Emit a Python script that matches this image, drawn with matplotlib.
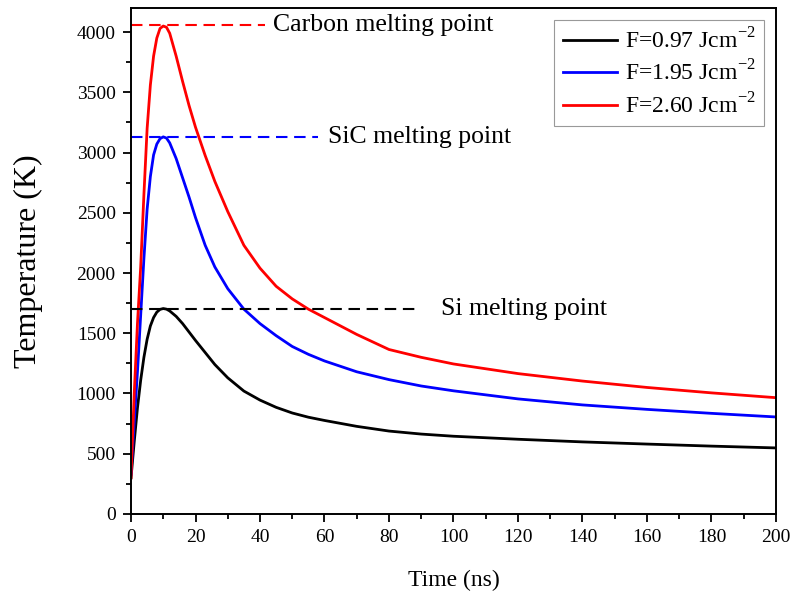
import numpy as np
import matplotlib.pyplot as plt

plt.rcParams['font.family'] = ['Liberation Serif', 'DejaVu Serif']
plt.rcParams['mathtext.fontset'] = 'custom'
plt.rcParams['mathtext.rm'] = 'Liberation Serif'

# time points (ns)
t = [0, 1, 2, 3, 4, 5, 6, 7, 8, 9, 10, 11, 12, 14, 16, 18, 20, 23, 26, 30, 35, 40,
     45, 50, 55, 60, 70, 80, 90, 100, 120, 140, 160, 180, 200]
# temperature (K) for each fluence
T_097 = [300, 600, 880, 1110, 1300, 1450, 1560, 1630, 1675, 1698, 1705, 1700, 1685, 1640, 1580, 1510, 1440, 1340, 1240, 1130, 1020, 945,
         885, 838, 803, 776, 727, 688, 663, 645, 620, 598, 580, 563, 548]
T_195 = [330, 760, 1180, 1650, 2120, 2530, 2800, 2980, 3070, 3115, 3130, 3120, 3080, 2950, 2790, 2630, 2460, 2230, 2050, 1870, 1700, 1580,
         1480, 1390, 1325, 1270, 1180, 1115, 1062, 1022, 955, 905, 868, 835, 805]
T_260 = [300, 1000, 1580, 2050, 2650, 3200, 3560, 3800, 3950, 4030, 4050, 4040, 3990, 3800, 3590, 3390, 3210, 2975, 2760, 2510, 2230, 2040,
         1890, 1785, 1700, 1630, 1490, 1365, 1300, 1245, 1165, 1103, 1050, 1005, 965]
labels = ['F=0.97 Jcm$^{\\mathregular{-2}}$', 'F=1.95 Jcm$^{\\mathregular{-2}}$', 'F=2.60 Jcm$^{\\mathregular{-2}}$']
colors = ['black', 'blue', 'red']

# melting points
melt_T = [1705, 3130, 4060]
melt_end = [89.5, 58, 41.5]
melt_text_x = [96, 61, 44]
melt_names = ['Si melting point', 'SiC melting point', 'Carbon melting point']

fig = plt.figure(figsize=(7.94, 5.99), dpi=100)
ax = fig.add_axes([0.165, 0.142, 0.8123, 0.8447])

for y, c, lab in zip([T_097, T_195, T_260], colors, labels):
    ax.plot(t, y, color=c, lw=2.0, label=lab)

for T, te, tx, name, c in zip(melt_T, melt_end, melt_text_x, melt_names, colors):
    ax.plot([0, te], [T, T], color=c, lw=1.5, dashes=(5.5, 3.2))
    ax.text(tx, T, name, fontsize=18.5, va='center', ha='left')

ax.set_xlim(0, 200)
ax.set_ylim(0, 4200)
ax.set_xticks(np.arange(0, 201, 20))
ax.set_xticks(np.arange(10, 200, 20), minor=True)
ax.set_yticks(np.arange(0, 4001, 500))
ax.set_yticks(np.arange(250, 4200, 500), minor=True)
ax.tick_params(which='major', length=6, width=1.3, labelsize=14, pad=5)
ax.tick_params(which='minor', length=3.5, width=1.3)
for s in ax.spines.values():
    s.set_linewidth(1.4)

ax.set_xlabel('Time (ns)', fontsize=17, labelpad=17)
ax.set_ylabel('Temperature (K)', fontsize=23, labelpad=24)

leg = ax.legend(loc='upper right', fontsize=17, fancybox=False, edgecolor='gray',
                handlelength=2.3, borderaxespad=0.5, labelspacing=0.3, handletextpad=0.35,
                borderpad=0.35)
leg.get_frame().set_linewidth(0.8)

fig.savefig('out.png', dpi=100)
